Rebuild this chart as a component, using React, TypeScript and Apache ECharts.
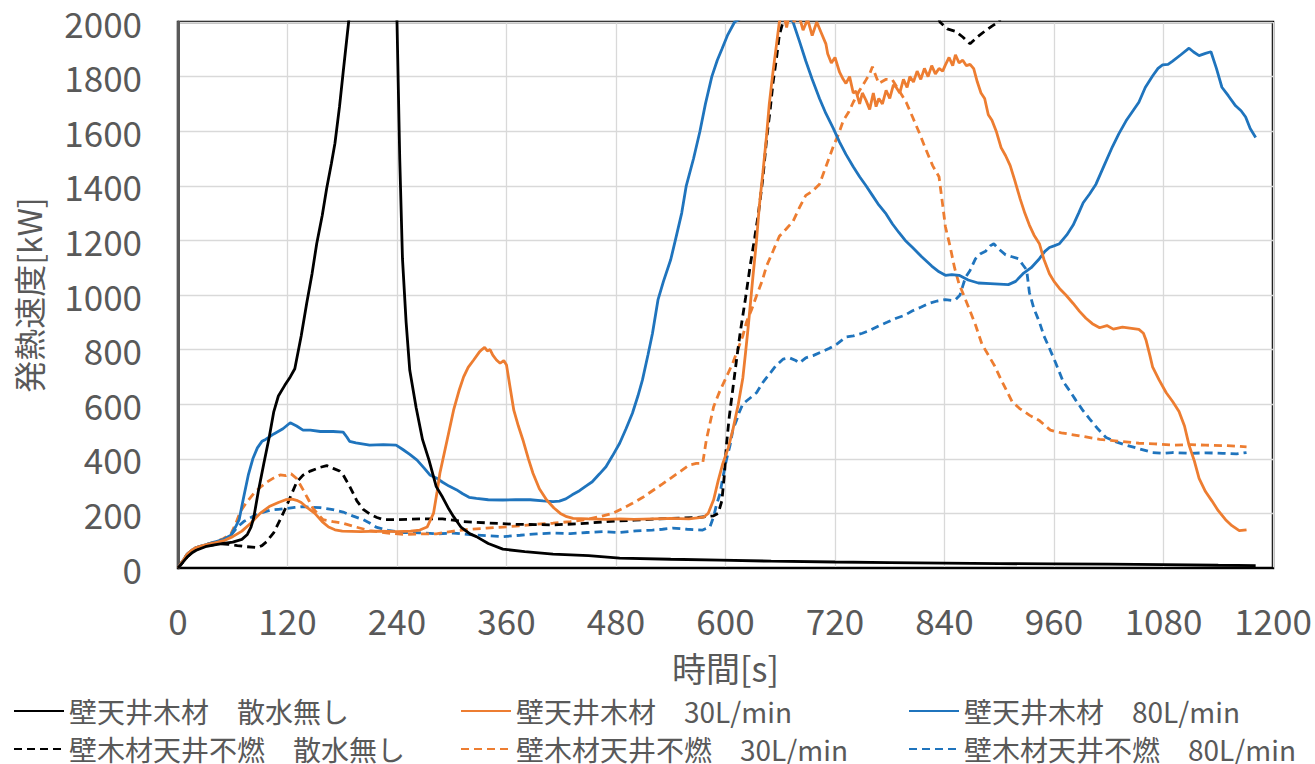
import React, { useEffect, useRef } from "react";
import * as echarts from "echarts";

type P = [number, number];

const xTicks = { min: 0, max: 1200, interval: 120 };
const yTicks = { min: 0, max: 2000, interval: 200 };

const seriesNames = [
  "壁天井木材　散水無し",
  "壁天井木材　30L/min",
  "壁天井木材　80L/min",
  "壁木材天井不燃　散水無し",
  "壁木材天井不燃　30L/min",
  "壁木材天井不燃　80L/min",
];

// 壁天井木材 散水無し (black solid)
const woodNone: P[] = [
  [0, 0], [5, 20], [10, 40], [15, 55], [20, 65], [30, 78], [40, 85], [50, 90], [60, 95], [70, 105], [76, 123], [80, 150], [83, 184], [88, 280], [94, 382], [100, 480], [105, 573], [110, 630], [117, 669], [123, 700], [128, 730], [135, 850], [141, 969], [147, 1080], [152, 1188], [158, 1290], [163, 1392], [168, 1480], [172, 1556], [177, 1690], [181, 1816], [187, 2000], [195, 2400], [210, 2800], [225, 2900], [235, 2500], [240, 2000], [243, 1500], [246, 1133], [250, 900], [254, 724], [261, 587], [268, 470], [275, 396], [283, 298], [290, 259], [297, 215], [302, 188], [310, 150], [320, 125], [327, 115], [340, 90], [356, 69], [380, 60], [411, 51], [450, 45], [484, 36], [540, 32], [594, 29], [650, 25], [720, 22], [780, 20], [840, 18], [900, 16], [960, 15], [1020, 14], [1080, 12], [1140, 10], [1181, 9],
];

// 壁天井木材 30L/min (orange solid)
const wood30: P[] = [
  [0, 0], [5, 25], [10, 50], [15, 65], [20, 75], [30, 85], [40, 92], [50, 100], [60, 115], [70, 135], [80, 165], [90, 200], [100, 225], [110, 240], [118, 250], [125, 252], [130, 248], [135, 240], [142, 220], [150, 200], [158, 170], [165, 150], [172, 140], [180, 135], [200, 133], [220, 135], [240, 133], [255, 135], [265, 139], [273, 150], [280, 200], [284, 280], [287, 347], [295, 470], [302, 578], [308, 650], [313, 700], [318, 735], [324, 762], [330, 790], [333, 800], [336, 808], [339, 795], [342, 800], [345, 780], [349, 762], [353, 750], [357, 760], [360, 744], [364, 660], [368, 578], [373, 520], [378, 469], [384, 400], [389, 347], [396, 290], [404, 249], [412, 220], [419, 200], [426, 188], [433, 182], [450, 180], [470, 178], [484, 180], [500, 178], [520, 180], [540, 182], [560, 180], [576, 186], [581, 200], [587, 250], [592, 320], [597, 382], [603, 440], [608, 505], [614, 600], [619, 696], [622, 790], [625, 887], [630, 1065], [634, 1200], [637, 1324], [641, 1450], [645, 1584], [648, 1700], [652, 1816], [656, 1920], [659, 2000], [663, 2040], [667, 1980], [671, 2050], [675, 2000], [680, 2030], [685, 1970], [690, 2010], [695, 1950], [700, 2000], [705, 1960], [710, 1920], [712, 1884], [716, 1850], [720, 1870], [725, 1816], [729, 1790], [732, 1775], [736, 1800], [740, 1740], [743, 1747], [747, 1700], [750, 1740], [754, 1713], [758, 1680], [762, 1740], [765, 1690], [768, 1720], [772, 1700], [776, 1750], [780, 1720], [784, 1770], [787, 1761], [791, 1740], [795, 1790], [799, 1760], [802, 1800], [806, 1780], [810, 1820], [814, 1790], [818, 1830], [822, 1800], [826, 1840], [830, 1810], [834, 1830], [838, 1820], [841, 1843], [845, 1870], [849, 1840], [852, 1880], [856, 1850], [860, 1860], [864, 1840], [868, 1845], [872, 1829], [876, 1780], [880, 1740], [884, 1720], [888, 1660], [892, 1640], [897, 1597], [902, 1540], [907, 1510], [912, 1474], [917, 1420], [923, 1351], [928, 1300], [933, 1256], [938, 1220], [944, 1188], [949, 1130], [955, 1078], [960, 1050], [966, 1024], [973, 1000], [981, 969], [988, 940], [995, 915], [1002, 895], [1010, 880], [1018, 888], [1025, 875], [1035, 882], [1045, 878], [1053, 874], [1058, 860], [1061, 833], [1065, 780], [1068, 737], [1075, 690], [1083, 642], [1090, 610], [1097, 573], [1103, 520], [1108, 450], [1114, 390], [1119, 328], [1126, 280], [1133, 246], [1140, 210], [1148, 177], [1155, 155], [1163, 137], [1171, 140],
];

// 壁天井木材 80L/min (blue solid)
const wood80: P[] = [
  [0, 0], [5, 25], [10, 50], [15, 65], [20, 75], [30, 85], [40, 95], [50, 105], [58, 120], [63, 150], [67, 177], [72, 260], [77, 340], [82, 400], [87, 440], [92, 464], [96, 471], [105, 491], [115, 510], [123, 532], [130, 520], [137, 505], [145, 505], [156, 500], [170, 500], [181, 498], [185, 480], [188, 464], [195, 458], [210, 450], [225, 452], [239, 450], [246, 435], [254, 416], [262, 395], [270, 365], [276, 341], [283, 330], [290, 314], [297, 300], [305, 287], [312, 272], [319, 259], [327, 255], [340, 250], [356, 249], [370, 250], [386, 250], [400, 246], [411, 243], [418, 245], [425, 253], [432, 268], [440, 283], [447, 300], [454, 316], [462, 345], [469, 371], [476, 410], [484, 457], [491, 510], [498, 567], [504, 630], [509, 689], [515, 780], [520, 860], [526, 982], [532, 1050], [540, 1130], [545, 1200], [552, 1300], [557, 1400], [565, 1500], [572, 1600], [578, 1700], [585, 1800], [591, 1860], [596, 1900], [602, 1950], [610, 2000], [625, 2030], [640, 2040], [655, 2030], [668, 2020], [674, 2000], [681, 1930], [688, 1857], [695, 1790], [703, 1720], [710, 1665], [718, 1611], [725, 1560], [732, 1515], [740, 1470], [747, 1433], [754, 1400], [761, 1365], [768, 1330], [776, 1297], [783, 1260], [790, 1229], [797, 1200], [805, 1174], [815, 1140], [826, 1106], [834, 1085], [841, 1072], [848, 1075], [856, 1072], [866, 1055], [877, 1044], [890, 1042], [900, 1040], [910, 1038], [918, 1050], [926, 1078], [935, 1100], [944, 1133], [950, 1160], [955, 1174], [960, 1180], [966, 1188], [974, 1220], [981, 1256], [987, 1300], [992, 1338], [999, 1370], [1006, 1406], [1015, 1475], [1024, 1543], [1031, 1590], [1039, 1638], [1046, 1672], [1053, 1706], [1060, 1760], [1068, 1802], [1074, 1830], [1079, 1843], [1085, 1845], [1090, 1857], [1099, 1880], [1108, 1904], [1113, 1890], [1119, 1877], [1126, 1885], [1132, 1891], [1138, 1830], [1144, 1761], [1151, 1730], [1159, 1693], [1165, 1675], [1170, 1652], [1175, 1610], [1181, 1577],
];

// 壁木材天井不燃 散水無し (black dashed)
const wallNone: P[] = [
  [0, 0], [5, 20], [10, 40], [15, 55], [20, 68], [30, 80], [40, 86], [47, 89], [55, 87], [65, 82], [75, 78], [87, 75], [92, 82], [97, 96], [105, 130], [112, 177], [118, 220], [123, 259], [130, 314], [137, 340], [145, 355], [155, 368], [163, 375], [170, 365], [177, 355], [181, 341], [188, 300], [196, 246], [203, 215], [210, 198], [218, 185], [225, 177], [240, 177], [265, 180], [290, 180], [313, 170], [340, 165], [370, 160], [411, 158], [440, 162], [470, 170], [500, 175], [540, 182], [570, 185], [587, 191], [592, 200], [596, 246], [599, 350], [601, 450], [604, 550], [608, 655], [612, 760], [616, 860], [622, 990], [627, 1106], [632, 1210], [636, 1297], [641, 1430], [645, 1570], [649, 1680], [652, 1775], [656, 1870], [659, 1952], [663, 2000], [680, 2300], [720, 2500], [780, 2400], [820, 2150], [835, 2000], [843, 1975], [852, 1966], [860, 1945], [868, 1920], [876, 1945], [884, 1966], [892, 1985], [899, 2000], [920, 2100], [960, 2300], [1000, 2400],
];

// 壁木材天井不燃 30L/min (orange dashed)
const wall30: P[] = [
  [0, 0], [5, 25], [10, 50], [15, 65], [20, 75], [30, 85], [40, 95], [50, 108], [58, 125], [63, 160], [68, 205], [75, 240], [83, 273], [90, 295], [97, 314], [105, 330], [112, 341], [118, 338], [124, 345], [130, 328], [137, 287], [143, 250], [148, 218], [154, 195], [159, 177], [170, 170], [181, 164], [195, 150], [210, 137], [230, 128], [247, 123], [265, 125], [283, 125], [302, 135], [320, 142], [338, 146], [356, 150], [374, 154], [392, 160], [411, 164], [430, 170], [447, 177], [462, 188], [476, 200], [487, 218], [498, 237], [509, 258], [520, 283], [531, 308], [542, 334], [551, 355], [560, 377], [568, 383], [575, 383], [579, 469], [583, 530], [587, 591], [594, 650], [601, 700], [608, 751], [614, 805], [619, 850], [623, 901], [629, 950], [634, 997], [640, 1050], [645, 1106], [652, 1160], [659, 1215], [666, 1240], [674, 1270], [681, 1320], [688, 1365], [695, 1380], [703, 1406], [710, 1470], [718, 1543], [724, 1590], [729, 1638], [735, 1670], [740, 1706], [747, 1750], [754, 1788], [758, 1810], [761, 1836], [765, 1800], [768, 1775], [776, 1790], [783, 1788], [790, 1750], [798, 1706], [805, 1652], [812, 1597], [820, 1530], [827, 1474], [834, 1433], [838, 1330], [841, 1250], [846, 1180], [851, 1100], [856, 1040], [861, 1000], [867, 950], [874, 890], [881, 820], [888, 780], [895, 740], [902, 690], [908, 650], [914, 610], [922, 585], [933, 560], [944, 540], [956, 505], [968, 495], [981, 488], [995, 480], [1010, 471], [1030, 465], [1053, 457], [1070, 455], [1090, 450], [1110, 452], [1126, 450], [1150, 448], [1171, 444],
];

// 壁木材天井不燃 80L/min (blue dashed)
const wall80: P[] = [
  [0, 0], [5, 25], [10, 50], [15, 65], [20, 75], [30, 85], [40, 95], [50, 105], [58, 120], [65, 150], [72, 170], [83, 191], [92, 203], [101, 212], [110, 215], [119, 218], [128, 222], [137, 225], [146, 222], [156, 221], [168, 215], [181, 205], [192, 190], [203, 177], [210, 165], [217, 150], [230, 138], [247, 130], [265, 129], [283, 125], [302, 128], [320, 122], [340, 118], [356, 115], [375, 120], [393, 125], [411, 128], [430, 126], [448, 130], [466, 133], [484, 130], [502, 136], [520, 139], [531, 142], [542, 146], [558, 142], [575, 139], [583, 151], [587, 188], [590, 230], [594, 273], [597, 330], [601, 396], [605, 450], [608, 505], [612, 540], [615, 570], [619, 601], [626, 620], [634, 642], [641, 680], [648, 710], [655, 740], [663, 765], [670, 770], [677, 760], [681, 751], [688, 770], [696, 778], [704, 790], [714, 805], [722, 820], [732, 846], [740, 850], [750, 860], [758, 870], [768, 887], [777, 900], [787, 915], [796, 925], [805, 942], [814, 955], [823, 969], [832, 978], [841, 983], [848, 980], [852, 983], [857, 1000], [863, 1065], [868, 1090], [874, 1133], [879, 1150], [885, 1160], [890, 1180], [894, 1188], [899, 1170], [907, 1147], [914, 1140], [921, 1133], [926, 1110], [930, 1092], [933, 1010], [938, 950], [944, 901], [949, 850], [955, 805], [962, 750], [970, 683], [977, 650], [984, 614], [991, 580], [999, 546], [1008, 510], [1017, 478], [1028, 462], [1039, 450], [1050, 440], [1068, 423], [1080, 420], [1090, 423], [1110, 420], [1126, 422], [1145, 420], [1160, 418], [1171, 423],
];

const FONT = "'Noto Sans CJK JP', 'Noto Sans', sans-serif";
const TXT = "#595959";
const BLACK = "#000000";
const ORANGE = "#ED7D31";
const BLUE = "#1F74BD";

export default function App() {
  const ref = useRef<HTMLDivElement>(null);
  useEffect(() => {
    if (!ref.current) return;
    const chart = echarts.init(ref.current, undefined, { renderer: "svg" });
    const dataSets = [woodNone, wood30, wood80, wallNone, wall30, wall80];
    const colors = [BLACK, ORANGE, BLUE, BLACK, ORANGE, BLUE];
    const dashed = [false, false, false, true, true, true];
    const legendText = { fontFamily: FONT, fontSize: 28, color: TXT };
    const legendLeft = [13, 460, 908, 13, 460, 908];
    const legendTop = [697, 697, 697, 735, 735, 735];
    const legends = seriesNames.map((n, i) => ({
      orient: "horizontal",
      left: legendLeft[i],
      top: legendTop[i],
      padding: 0,
      itemWidth: 50,
      itemHeight: 14,
      data: [n],
      textStyle: legendText,
      itemStyle: { opacity: 0 },
      selectedMode: false,
    }));
    const fmt = (v: number) => String(v);
    chart.setOption({
      animation: false,
      backgroundColor: "#ffffff",
      textStyle: { fontFamily: FONT },
      grid: {
        left: 178,
        right: 42,
        top: 22,
        bottom: 196,
        show: true,
        borderColor: "#000",
        borderWidth: 2.5,
        containLabel: false,
      },
      legend: legends,
      xAxis: {
        type: "value",
        min: xTicks.min,
        max: xTicks.max,
        interval: xTicks.interval,
        name: "時間[s]",
        nameLocation: "middle",
        nameGap: 82,
        nameTextStyle: { fontFamily: FONT, fontSize: 34, color: TXT },
        axisLine: { show: true, onZero: false, lineStyle: { color: "#000", width: 2 } },
        axisTick: { show: false },
        axisLabel: { fontFamily: FONT, fontSize: 35, color: TXT, margin: 34, formatter: fmt },
        splitLine: { show: true, lineStyle: { color: "#d9d9d9", width: 1.3 } },
      },
      yAxis: {
        type: "value",
        min: yTicks.min,
        max: yTicks.max,
        interval: yTicks.interval,
        name: "発熱速度[kW]",
        nameLocation: "middle",
        nameGap: 134,
        nameTextStyle: { fontFamily: FONT, fontSize: 32, color: TXT },
        axisLine: { show: true, lineStyle: { color: "#595959", width: 3 } },
        axisTick: { show: false },
        axisLabel: { fontFamily: FONT, fontSize: 35, color: TXT, margin: 36, formatter: fmt },
        splitLine: { show: true, lineStyle: { color: "#d9d9d9", width: 1.3 } },
      },
      series: dataSets.map((d, i) => ({
        name: seriesNames[i],
        type: "line",
        data: d,
        showSymbol: false,
        symbol: "none",
        clip: true,
        color: colors[i],
        lineStyle: {
          color: colors[i],
          width: 2.8,
          type: dashed[i] ? [8, 5] : "solid",
        },
        z: 2 + (5 - i),
      })),
    });
    return () => chart.dispose();
  }, []);
  return (
    <div
      ref={ref}
      style={{ position: "fixed", left: 0, top: 0, width: 1315, height: 764, background: "#fff" }}
    />
  );
}
